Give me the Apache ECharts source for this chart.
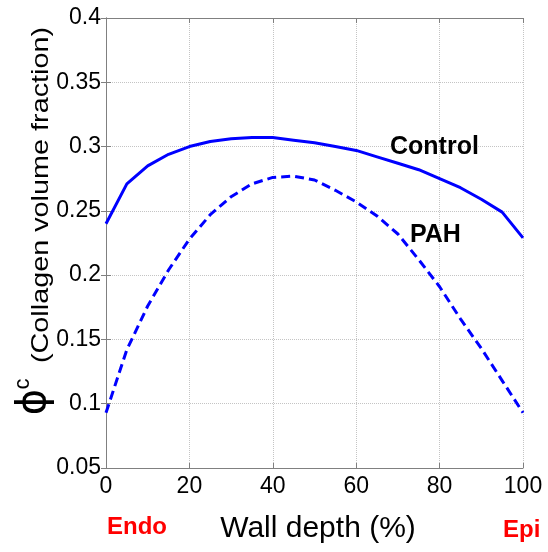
<!DOCTYPE html>
<html>
<head>
<meta charset="utf-8">
<script src="https://cdn.jsdelivr.net/npm/echarts@6/dist/echarts.min.js"></script>
<style>
  html, body { margin: 0; padding: 0; background: #fff; }
  #chart { width: 548px; height: 552px; }
</style>
</head>
<body>
<div id="chart"></div>
<script>
// wall depth positions (%)
const depth = [0, 5, 10, 15, 20, 25, 30, 35, 40, 45, 50, 55, 60, 65, 70, 75, 80, 85, 90, 95, 100];
// collagen volume fraction
const control = [0.240, 0.271, 0.285, 0.294, 0.300, 0.304, 0.306, 0.307, 0.307, 0.305, 0.303,
  0.300, 0.297, 0.292, 0.287, 0.282, 0.275, 0.268, 0.259, 0.249, 0.229];
const pah = [0.093, 0.142, 0.176, 0.204, 0.228, 0.247, 0.261, 0.271, 0.276, 0.277, 0.274,
  0.266, 0.257, 0.246, 0.232, 0.212, 0.191, 0.166, 0.143, 0.118, 0.093];

const AXIS_COLOR = "#808080";
const TICK_FONT = "'Liberation Sans Narrow', 'Liberation Sans', Arial, sans-serif";
const FONT = "'Liberation Sans', Arial, sans-serif";

const chart = echarts.init(document.getElementById("chart"), null, { renderer: "canvas" });

const boxAxis = {
  axisLine: { show: true, lineStyle: { color: AXIS_COLOR, width: 1 } },
  axisTick: { show: true, inside: true, length: 5, lineStyle: { color: AXIS_COLOR } },
};

const option = {
  animation: false,
  backgroundColor: "#fff",
  grid: { left: 106, right: 25, top: 18, bottom: 84 },
  xAxis: [
    {
      type: "value",
      min: 0,
      max: 100,
      interval: 20,
      position: "bottom",
      ...boxAxis,
      axisLabel: { color: "#000", fontSize: 23, fontFamily: TICK_FONT, margin: 7 },
      splitLine: { show: true, lineStyle: { color: "#c4c4c4", type: "dotted", width: 1 } },
    },
    {
      type: "value",
      min: 0,
      max: 100,
      interval: 20,
      position: "top",
      ...boxAxis,
      axisLabel: { show: false },
      splitLine: { show: false },
    },
  ],
  yAxis: [
    {
      type: "value",
      min: 0.05,
      max: 0.4,
      interval: 0.05,
      position: "left",
      ...boxAxis,
      axisLabel: {
        color: "#000",
        fontSize: 23,
        fontFamily: TICK_FONT,
        margin: 5,
        formatter: (v) => String(+v.toFixed(2)),
      },
      splitLine: { show: true, lineStyle: { color: "#c4c4c4", type: "dotted", width: 1 } },
    },
    {
      type: "value",
      min: 0.05,
      max: 0.4,
      interval: 0.05,
      position: "right",
      ...boxAxis,
      axisLabel: { show: false },
      splitLine: { show: false },
    },
  ],
  series: [
    {
      name: "Control",
      type: "line",
      data: depth.map((d, i) => [d, control[i]]),
      symbol: "none",
      lineStyle: { color: "#0000ff", width: 3 },
      z: 3,
    },
    {
      name: "PAH",
      type: "line",
      data: depth.map((d, i) => [d, pah[i]]),
      symbol: "none",
      lineStyle: { color: "#0000ff", width: 3, type: [9, 5] },
      z: 3,
    },
  ],
  graphic: [
    {
      type: "text",
      x: 390,
      y: 147,
      style: { text: "Control", fill: "#000", font: "bold 25px " + FONT, verticalAlign: "middle" },
      z: 10,
    },
    {
      type: "text",
      x: 410,
      y: 235,
      style: { text: "PAH", fill: "#000", font: "bold 25px " + FONT, verticalAlign: "middle" },
      z: 10,
    },
    {
      type: "text",
      x: 318,
      y: 529,
      style: { text: "Wall depth (%)", fill: "#000", font: "30px " + FONT, align: "center", verticalAlign: "middle" },
    },
    {
      type: "text",
      x: 107,
      y: 527,
      style: { text: "Endo", fill: "#ff0000", font: "bold 24px " + FONT, verticalAlign: "middle" },
    },
    {
      type: "text",
      x: 503,
      y: 530,
      style: { text: "Epi", fill: "#ff0000", font: "bold 24px " + FONT, verticalAlign: "middle" },
    },
    {
      type: "text",
      x: 41,
      y: 195,
      rotation: Math.PI / 2,
      scaleX: 1.2,
      style: { text: "(Collagen volume fraction)", fill: "#000", font: "24px " + FONT, align: "center", verticalAlign: "middle" },
    },
    {
      type: "text",
      x: 35,
      y: 402,
      rotation: Math.PI / 2,
      style: { text: "ϕ", fill: "#000", font: "40px 'DejaVu Sans', sans-serif", align: "center", verticalAlign: "middle" },
    },
    {
      type: "text",
      x: 23,
      y: 384,
      rotation: Math.PI / 2,
      style: { text: "c", fill: "#000", font: "22px " + FONT, align: "center", verticalAlign: "middle" },
    },
  ],
};

chart.setOption(option);
</script>
</body>
</html>
